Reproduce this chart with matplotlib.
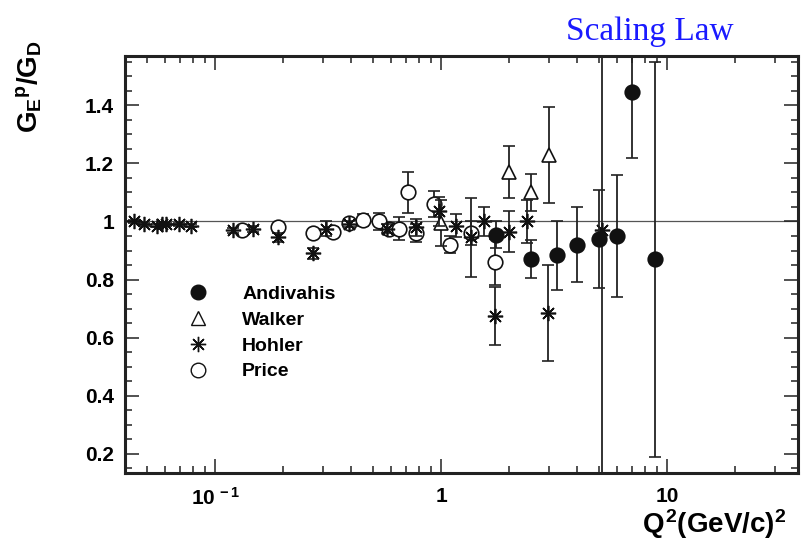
import matplotlib
matplotlib.use("Agg")
import matplotlib.pyplot as plt
from matplotlib.ticker import FixedLocator, FixedFormatter, LogLocator, NullFormatter, MultipleLocator
from matplotlib.lines import Line2D

plt.rcParams['font.family'] = ['Liberation Sans', 'DejaVu Sans']
plt.rcParams['font.weight'] = 'bold'
plt.rcParams['mathtext.fontset'] = 'custom'
plt.rcParams['mathtext.rm'] = 'Liberation Sans:bold'
plt.rcParams['mathtext.it'] = 'Liberation Sans:bold'
plt.rcParams['mathtext.bf'] = 'Liberation Sans:bold'

# ---- data ----
andivahis_q2 = [1.75, 2.5, 3.25, 4.0, 5.0, 6.0, 7.0, 8.83]
andivahis_val = [0.955, 0.87, 0.883, 0.92, 0.94, 0.95, 1.445, 0.87]
andivahis_err = [0.045, 0.065, 0.12, 0.13, 0.17, 0.21, 0.225, 0.68]

walker_q2 = [1.0, 2.0, 2.5, 3.0]
walker_val = [0.995, 1.17, 1.10, 1.23]
walker_err = [0.08, 0.09, 0.065, 0.165]

hohler_q2 = [0.0438, 0.0485, 0.0554, 0.0583, 0.0607, 0.0693, 0.0784, 0.120, 0.147,
             0.19, 0.272, 0.31, 0.392, 0.577, 0.775, 0.98, 1.165, 1.36, 1.55, 1.73,
             2.0, 2.4, 2.97, 5.15]
hohler_val = [1.0, 0.99, 0.985, 0.99, 0.99, 0.99, 0.985, 0.97, 0.975,
              0.945, 0.89, 0.975, 0.99, 0.975, 0.98, 1.035, 0.985, 0.945, 1.0, 0.675,
              0.965, 1.0, 0.685, 0.97]
hohler_err = [0.005, 0.005, 0.005, 0.005, 0.005, 0.005, 0.005, 0.008, 0.01,
              0.015, 0.02, 0.025, 0.01, 0.015, 0.03, 0.05, 0.04, 0.135, 0.05, 0.1,
              0.07, 0.075, 0.165, 1.5]

price_q2 = [0.131, 0.19, 0.272, 0.333, 0.392, 0.452, 0.532, 0.589, 0.652, 0.714,
            0.775, 0.93, 1.096, 1.36, 1.73]
price_val = [0.97, 0.98, 0.96, 0.965, 0.995, 1.005, 1.0, 0.975, 0.975, 1.1,
             0.96, 1.06, 0.92, 0.96, 0.86]
price_err = [0.01, 0.01, 0.01, 0.015, 0.015, 0.02, 0.03, 0.02, 0.04, 0.07,
             0.03, 0.045, 0.03, 0.04, 0.08]

series_labels = ["Andivahis", "Walker", "Hohler", "Price"]
x_tick_vals = [0.1, 1, 10]
x_tick_labels = [r"$10^{\,-1}$", "1", "10"]
y_tick_vals = [0.2, 0.4, 0.6, 0.8, 1.0, 1.2, 1.4]
y_tick_labels = ["0.2", "0.4", "0.6", "0.8", "1", "1.2", "1.4"]

fig = plt.figure(figsize=(8.02, 5.53), dpi=100)
ax = fig.add_axes([0.156, 0.145, 0.839, 0.754])

ax.set_xscale('log')
ax.set_xlim(0.04, 38)
ax.set_ylim(0.135, 1.57)

ax.axhline(1.0, color='#555555', lw=0.9, zorder=1)

ebkw = dict(ls='none', ecolor='#222222', elinewidth=1.3, capsize=4.5, capthick=1.3,
            markeredgecolor='#111111', markeredgewidth=1.2)
ax.errorbar(price_q2, price_val, yerr=price_err, marker='o', markersize=10.5,
            markerfacecolor='white', zorder=2, **ebkw)
ax.errorbar(walker_q2, walker_val, yerr=walker_err, marker='^', markersize=10.5,
            markerfacecolor='white', zorder=3, **ebkw)
ax.errorbar(hohler_q2, hohler_val, yerr=hohler_err, marker=(8, 2, 0), markersize=11,
            markerfacecolor='none', zorder=4, **ebkw)
ax.errorbar(andivahis_q2, andivahis_val, yerr=andivahis_err, marker='o', markersize=10.5,
            markerfacecolor='#111111', zorder=5, **ebkw)

# ticks
ax.xaxis.set_major_locator(FixedLocator(x_tick_vals))
ax.xaxis.set_major_formatter(FixedFormatter(x_tick_labels))
ax.xaxis.set_minor_locator(LogLocator(base=10, subs=[2, 3, 4, 5, 6, 7, 8, 9]))
ax.xaxis.set_minor_formatter(NullFormatter())
ax.yaxis.set_major_locator(FixedLocator(y_tick_vals))
ax.yaxis.set_major_formatter(FixedFormatter(y_tick_labels))
ax.yaxis.set_minor_locator(MultipleLocator(0.05))

ax.tick_params(which='both', direction='in', top=True, right=True, width=1.1, color='#222222')
ax.tick_params(which='major', length=10)
ax.tick_params(which='minor', length=5)
ax.tick_params(axis='x', which='major', labelsize=15, pad=10)
ax.tick_params(axis='y', which='major', labelsize=15, pad=8)
for s in ax.spines.values():
    s.set_linewidth(2.2)
    s.set_color('#222222')

# legend
handles = [
    Line2D([], [], ls='none', marker='o', markersize=10.5, markerfacecolor='#111111', markeredgecolor='#111111'),
    Line2D([], [], ls='none', marker='^', markersize=10.5, markerfacecolor='white', markeredgecolor='#111111', markeredgewidth=1.0),
    Line2D([], [], ls='none', marker=(8, 2, 0), markersize=11, markeredgecolor='#111111', markeredgewidth=1.0),
    Line2D([], [], ls='none', marker='o', markersize=10.5, markerfacecolor='white', markeredgecolor='#111111', markeredgewidth=1.0),
]
leg = ax.legend(handles, series_labels, loc='upper left', bbox_to_anchor=(0.083, 0.468),
                frameon=False, fontsize=14, handlelength=1.0, handletextpad=1.75,
                labelspacing=0.42, borderaxespad=0)

fig.text(0.036, 0.843, r"$G_E{}^p/G_D$", rotation=90, fontsize=20, ha='center', va='center')
fig.text(0.891, 0.052, r"$Q^2$(GeV/c)$^2$", fontsize=20, ha='center', va='center')
fig.text(0.81, 0.942, "Scaling Law", color='#1a1aff', fontsize=24,
         family='Liberation Serif', fontweight='normal', ha='center', va='center')

fig.savefig("out.png", dpi=100)
